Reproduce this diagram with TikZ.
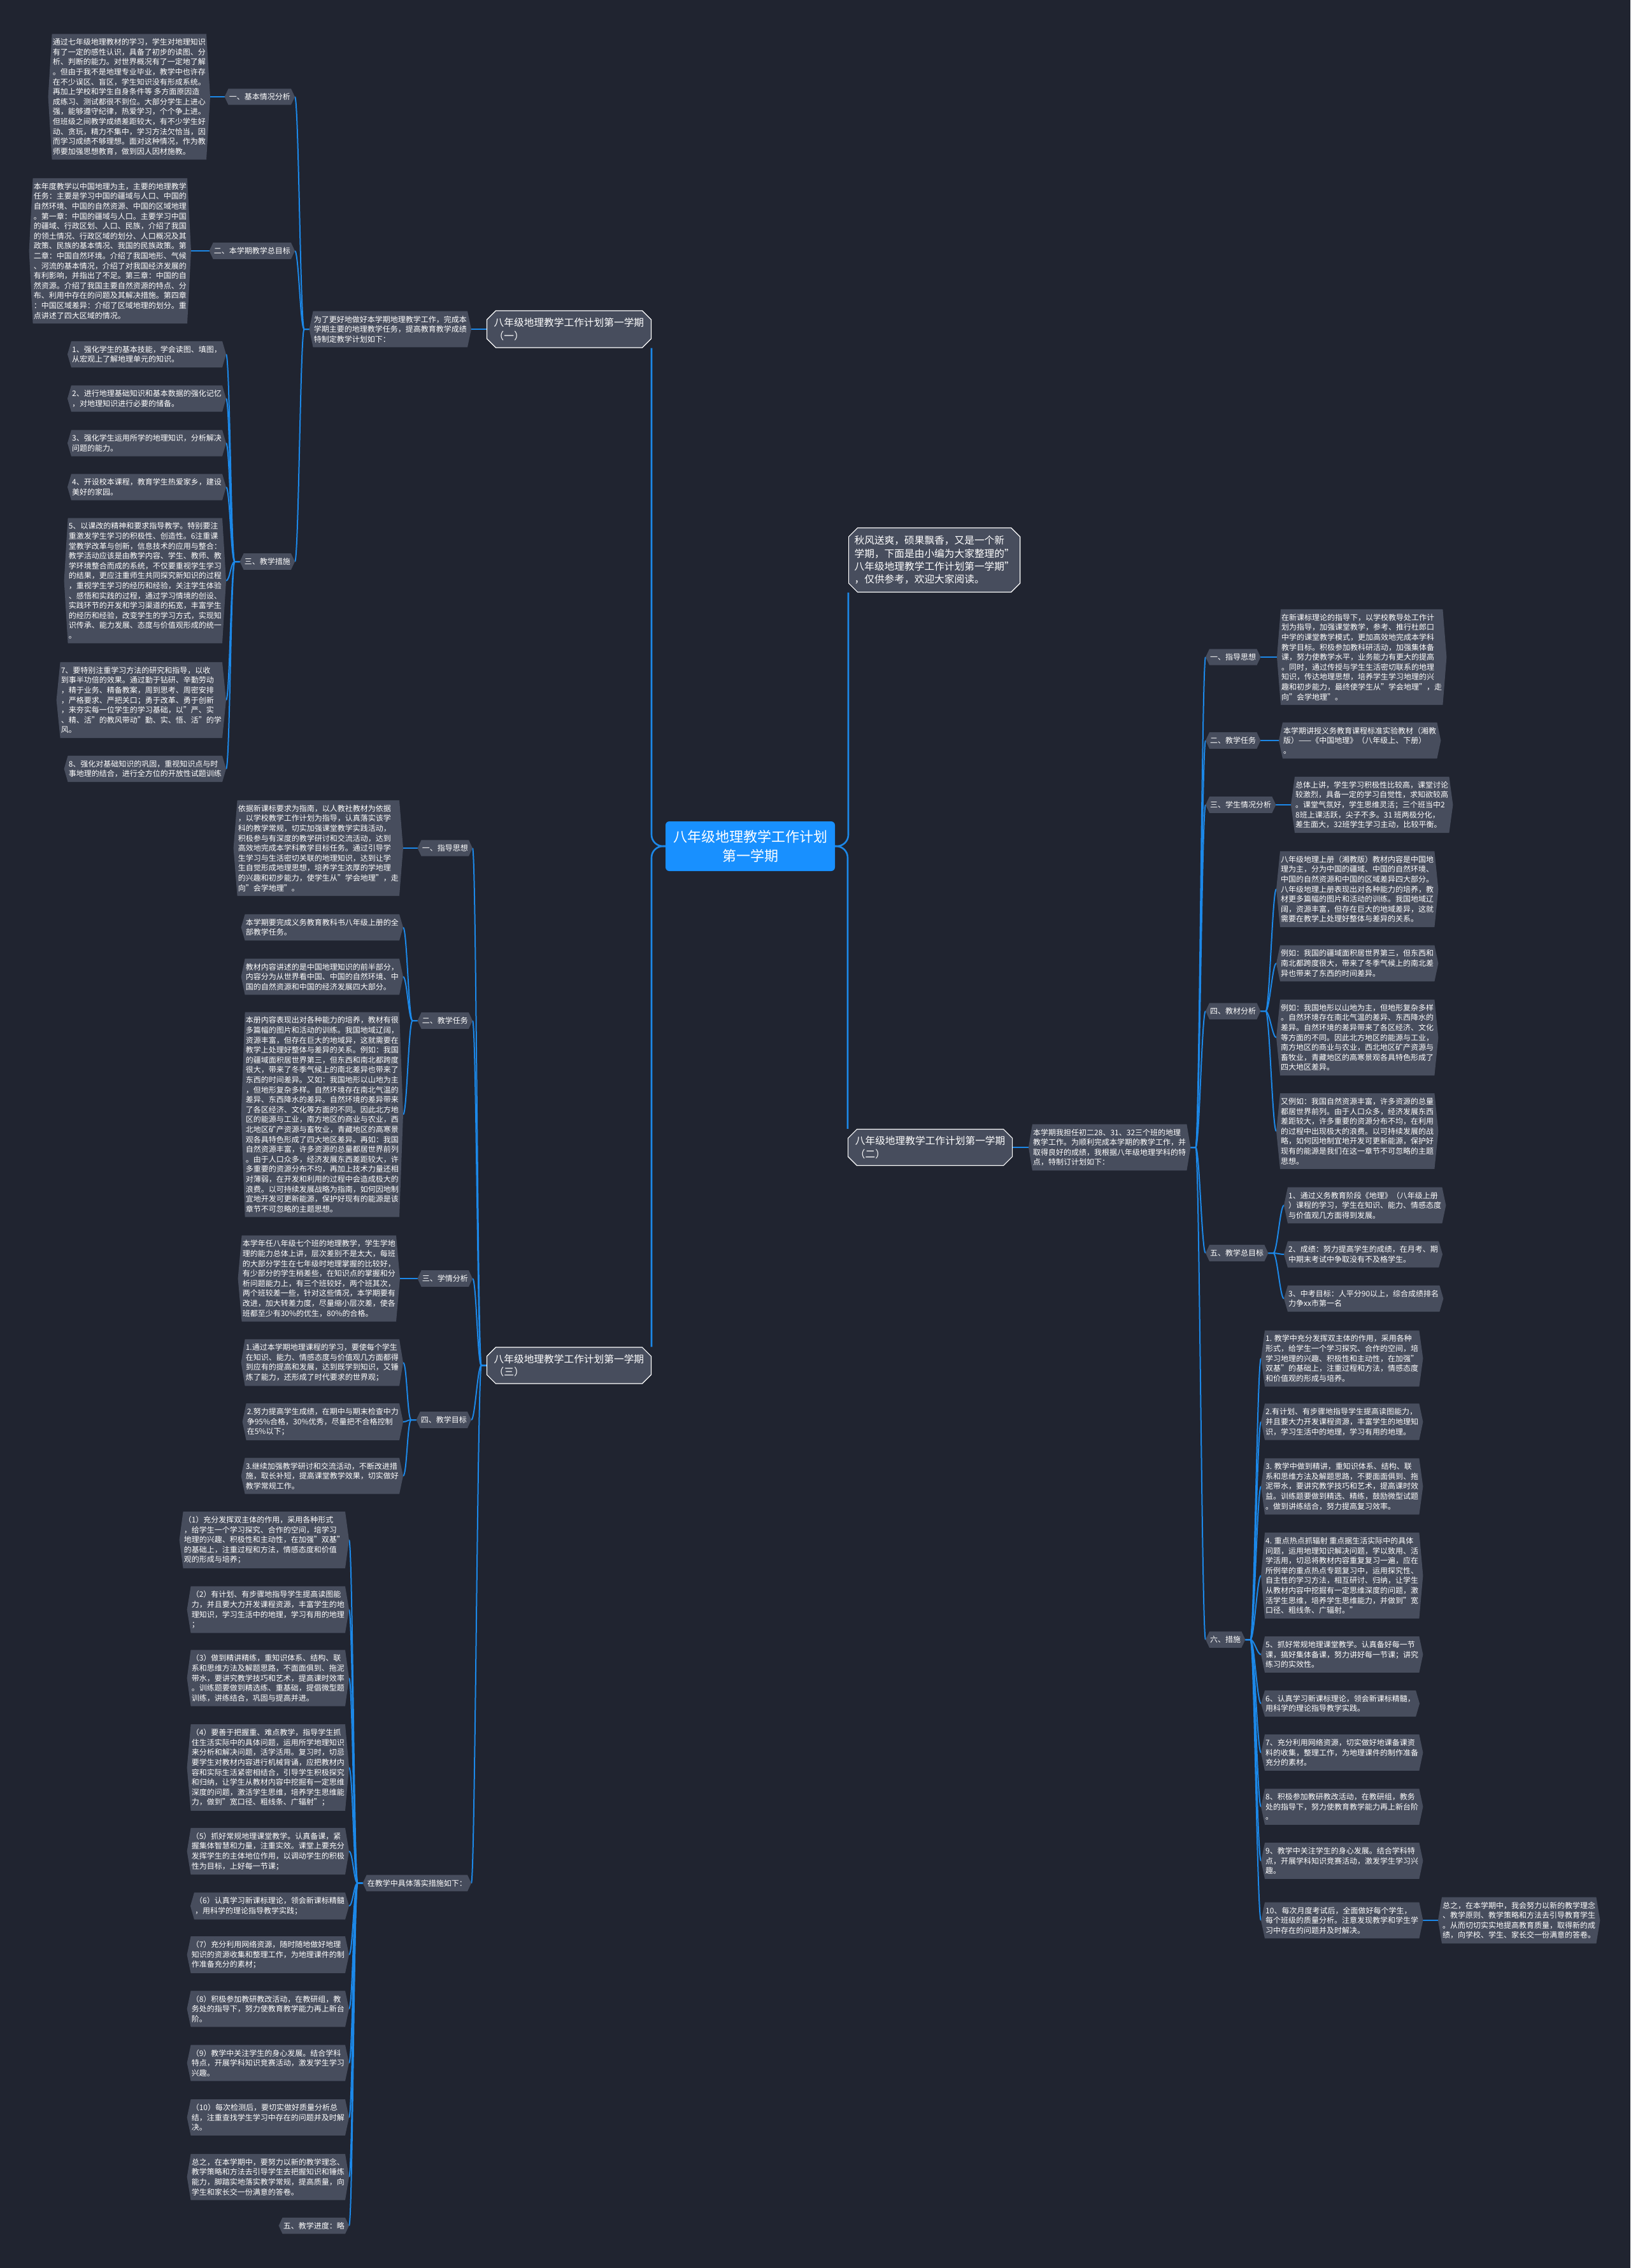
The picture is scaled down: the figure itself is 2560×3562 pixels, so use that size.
\documentclass[tikz,border=0pt]{standalone}
\usepackage{fontspec}
\setmainfont{Noto Sans CJK SC}
\usepackage{xcolor}
\usetikzlibrary{shapes.misc, backgrounds}

\definecolor{bgnavy}{RGB}{32,36,48}
\definecolor{leafgrey}{RGB}{71,77,93}
\definecolor{linkblue}{RGB}{28,136,232}
\definecolor{rootblue}{RGB}{24,144,255}

\newcommand{\leaffont}{\fontsize{12}{15.6}\selectfont}
\newcommand{\branchfont}{\fontsize{15.7}{20.4}\selectfont}
\newcommand{\rootfont}{\fontsize{22}{29.5}\selectfont}
% grey hexagon behind a leaf node
\newcommand{\hexback}[1]{\fill[leafgrey] (#1.west) -- ([xshift=6pt]#1.north west) -- ([xshift=-6pt]#1.north east) -- (#1.east) -- ([xshift=-6pt]#1.south east) -- ([xshift=6pt]#1.south west) -- cycle;}

\begin{document}
\begin{tikzpicture}[x=1pt, y=1pt,
    hexbox/.style={inner xsep=7pt, inner ysep=7pt, align=left, text=white, font=\leaffont},
    planbox/.style={chamfered rectangle, chamfered rectangle xsep=7pt, chamfered rectangle ysep=7pt,
      fill=leafgrey, draw=white, line width=1.2pt, inner sep=2pt, align=left, text=white, font=\branchfont},
    link/.style={draw=linkblue, line width=2pt}]
    \useasboundingbox (0,0) rectangle (2560,-3562);

    % Root
    \node[fill=rootblue, rounded corners=6pt, minimum width=266pt, minimum height=78pt,
      text=white, align=center, font=\rootfont] (root) at (1178,-1329) {八年级地理教学工作计划\\第一学期};

    % Main branches
    \node[planbox, anchor=east, minimum width=258pt, minimum height=58pt] (plan1) at (1023,-517)
      {八年级地理教学工作计划第一学期\\（一）};
    \node[planbox, anchor=west, minimum width=258pt, minimum height=101pt] (intro) at (1332,-879.5)
      {秋风送爽，硕果飘香，又是一个新\\学期，下面是由小编为大家整理的"\\八年级地理教学工作计划第一学期"\\，仅供参考，欢迎大家阅读。};
    \node[planbox, anchor=west, minimum width=258pt, minimum height=57pt] (plan2) at (1331,-1802)
      {八年级地理教学工作计划第一学期\\（二）};
    \node[planbox, anchor=east, minimum width=258pt, minimum height=57pt] (plan3) at (1023,-2144.5)
      {八年级地理教学工作计划第一学期\\（三）};

    % Plan (one)
    \node[hexbox, anchor=east] (p1lead) at (740,-517) {为了更好地做好本学期地理教学工作，完成本\\学期主要的地理教学任务，提高教育教学成绩\\特制定教学计划如下：};
    \node[hexbox, anchor=east] (p1s1) at (463,-152) {一、基本情况分析};
    \node[hexbox, anchor=east] (p1s2) at (463,-394) {二、本学期教学总目标};
    \node[hexbox, anchor=east] (p1s3) at (463,-882) {三、教学措施};
    \node[hexbox, anchor=east] (p1s1t) at (330,-152) {通过七年级地理教材的学习，学生对地理知识\\
有了一定的感性认识，具备了初步的读图、分\\
析、判断的能力。对世界概况有了一定地了解\\
。但由于我不是地理专业毕业，教学中也许存\\
在不少误区、盲区，学生知识没有形成系统。\\
再加上学校和学生自身条件等 多方面原因造\\
成练习、测试都很不到位。大部分学生上进心\\
强，能够遵守纪律，热爱学习，个个争上进。\\
但班级之间教学成绩差距较大，有不少学生好\\
动、贪玩，精力不集中，学习方法欠恰当，因\\
而学习成绩不够理想。面对这种情况，作为教\\
师要加强思想教育，做到因人因材施教。};
    \node[hexbox, anchor=east] (p1s2t) at (300,-394) {本年度教学以中国地理为主，主要的地理教学\\
任务：主要是学习中国的疆域与人口、中国的\\
自然环境、中国的自然资源、中国的区域地理\\
。第一章：中国的疆域与人口。主要学习中国\\
的疆域、行政区划、人口、民族，介绍了我国\\
的领土情况、行政区域的划分、人口概况及其\\
政策、民族的基本情况、我国的民族政策。第\\
二章：中国自然环境。介绍了我国地形、气候\\
、河流的基本情况，介绍了对我国经济发展的\\
有利影响，并指出了不足。第三章：中国的自\\
然资源。介绍了我国主要自然资源的特点、分\\
布、利用中存在的问题及其解决措施。第四章\\
：中国区域差异：介绍了区域地理的划分。重\\
点讲述了四大区域的情况。};
    \node[hexbox, anchor=east] (p1s3t1) at (355,-556.5) {1、强化学生的基本技能，学会读图、填图，\\从宏观上了解地理单元的知识。};
    \node[hexbox, anchor=east] (p1s3t2) at (355,-626) {2、进行地理基础知识和基本数据的强化记忆\\，对地理知识进行必要的储备。};
    \node[hexbox, anchor=east] (p1s3t3) at (355,-696) {3、强化学生运用所学的地理知识，分析解决\\问题的能力。};
    \node[hexbox, anchor=east] (p1s3t4) at (355,-765) {4、开设校本课程，教育学生热爱家乡，建设\\美好的家园。};
    \node[hexbox, anchor=east] (p1s3t5) at (355,-912) {5、以课改的精神和要求指导教学。特别要注\\
重激发学生学习的积极性、创造性。6注重课\\
堂教学改革与创新，信息技术的应用与整合：\\
教学活动应该是由教学内容、学生、教师、教\\
学环境整合而成的系统，不仅要重视学生学习\\
的结果，更应注重师生共同探究新知识的过程\\
，重视学生学习的经历和经验，关注学生体验\\
、感悟和实践的过程，通过学习情境的创设、\\
实践环节的开发和学习渠道的拓宽，丰富学生\\
的经历和经验，改变学生的学习方式，实现知\\
识传承、能力发展、态度与价值观形成的统一\\
。};
    \node[hexbox, anchor=east] (p1s3t6) at (355,-1099.5) {7、要特别注重学习方法的研究和指导，以收\\
到事半功倍的效果。通过勤于钻研、辛勤劳动\\
，精于业务、精备教案，周到思考、周密安排\\
，严格要求、严把关口；勇于改革、勇于创新\\
，来夯实每一位学生的学习基础，以"严、实\\
、精、活"的教风带动"勤、实、悟、活"的学\\
风。};
    \node[hexbox, anchor=east] (p1s3t7) at (355,-1207.5) {8、强化对基础知识的巩固，重视知识点与时\\事地理的结合，进行全方位的开放性试题训练};

    % Plan (two)
    \node[hexbox, anchor=west] (p2lead) at (1615,-1802) {本学期我担任初二28、31、32三个班的地理\\教学工作。为顺利完成本学期的教学工作，并\\取得良好的成绩，我根据八年级地理学科的特\\点，特制订计划如下：};
    \node[hexbox, anchor=west] (p2s1) at (1893,-1032) {一、指导思想};
    \node[hexbox, anchor=west] (p2s2) at (1893,-1163) {二、教学任务};
    \node[hexbox, anchor=west] (p2s3) at (1893,-1264) {三、学生情况分析};
    \node[hexbox, anchor=west] (p2s4) at (1893,-1588) {四、教材分析};
    \node[hexbox, anchor=west] (p2s5) at (1893,-1968) {五、教学总目标};
    \node[hexbox, anchor=west] (p2s6) at (1893,-2575) {六、措施};
    \node[hexbox, anchor=west] (p2s1t) at (2005,-1032) {在新课标理论的指导下，以学校教导处工作计\\
划为指导，加强课堂教学，参考、推行杜郎口\\
中学的课堂教学模式，更加高效地完成本学科\\
教学目标。积极参加教科研活动，加强集体备\\
课，努力使教学水平，业务能力有更大的提高\\
。同时，通过传授与学生生活密切联系的地理\\
知识，传达地理思想，培养学生学习地理的兴\\
趣和初步能力，最终使学生从"学会地理"，走\\
向"会学地理"。};
    \node[hexbox, anchor=west] (p2s2t) at (2008,-1163) {本学期讲授义务教育课程标准实验教材（湘教\\版）——《中国地理》（八年级上、下册）\\。};
    \node[hexbox, anchor=west] (p2s3t) at (2027,-1264) {总体上讲，学生学习积极性比较高，课堂讨论\\
较激烈，具备一定的学习自觉性，求知欲较高\\
。课堂气氛好，学生思维灵活；三个班当中2\\
8班上课活跃，尖子不多。31 班两极分化，\\
差生面大，32班学生学习主动，比较平衡。};
    \node[hexbox, anchor=west] (p2s4t1) at (2004,-1396.5) {八年级地理上册（湘教版）教材内容是中国地\\
理为主，分为中国的疆域、中国的自然环境、\\
中国的自然资源和中国的区域差异四大部分。\\
八年级地理上册表现出对各种能力的培养，教\\
材更多篇幅的图片和活动的训练。我国地域辽\\
阔，资源丰富，但存在巨大的地域差异，这就\\
需要在教学上处理好整体与差异的关系。};
    \node[hexbox, anchor=west] (p2s4t2) at (2004,-1513) {例如：我国的疆域面积居世界第三，但东西和\\南北都跨度很大，带来了冬季气候上的南北差\\异也带来了东西的时间差异。};
    \node[hexbox, anchor=west] (p2s4t3) at (2004,-1629.5) {例如：我国地形以山地为主，但地形复杂多样\\
。自然环境存在南北气温的差异、东西降水的\\
差异。自然环境的差异带来了各区经济、文化\\
等方面的不同。因此北方地区的能源与工业，\\
南方地区的商业与农业，西北地区矿产资源与\\
畜牧业，青藏地区的高寒景观各具特色形成了\\
四大地区差异。};
    \node[hexbox, anchor=west] (p2s4t4) at (2004,-1776.5) {又例如：我国自然资源丰富，许多资源的总量\\
都居世界前列。由于人口众多，经济发展东西\\
差距较大，许多重要的资源分布不均，在利用\\
的过程中出现极大的浪费。以可持续发展的战\\
略，如何因地制宜地开发可更新能源，保护好\\
现有的能源是我们在这一章节不可忽略的主题\\
思想。};
    \node[hexbox, anchor=west] (p2s5t1) at (2016,-1893) {1、通过义务教育阶段《地理》（八年级上册\\）课程的学习，学生在知识、能力、情感态度\\与价值观几方面得到发展。};
    \node[hexbox, anchor=west] (p2s5t2) at (2016,-1970) {2、成绩：努力提高学生的成绩，在月考、期\\中期末考试中争取没有不及格学生。};
    \node[hexbox, anchor=west] (p2s5t3) at (2016,-2039.5) {3、中考目标：人平分90以上，综合成绩排名\\力争xx市第一名};
    \node[hexbox, anchor=west] (p2s6t1) at (1980,-2133.5) {1. 教学中充分发挥双主体的作用，采用各种\\
形式，给学生一个学习探究、合作的空间，培\\
学习地理的兴趣、积极性和主动性，在加强"\\
双基"的基础上，注重过程和方法，情感态度\\
和价值观的形成与培养。};
    \node[hexbox, anchor=west] (p2s6t2) at (1980,-2233) {2.有计划、有步骤地指导学生提高读图能力，\\并且要大力开发课程资源，丰富学生的地理知\\识，学习生活中的地理，学习有用的地理。};
    \node[hexbox, anchor=west] (p2s6t3) at (1980,-2334.5) {3. 教学中做到精讲，重知识体系、结构、联\\
系和思维方法及解题思路，不要面面俱到、拖\\
泥带水，要讲究教学技巧和艺术，提高课时效\\
益。训练题要做到精选、精练，鼓励微型试题\\
。做到讲练结合，努力提高复习效率。};
    \node[hexbox, anchor=west] (p2s6t4) at (1980,-2474.5) {4. 重点热点抓辐射 重点据生活实际中的具体\\
问题，运用地理知识解决问题，学以致用、活\\
学活用，切忌将教材内容重复复习一遍，应在\\
所例举的重点热点专题复习中，运用探究性、\\
自主性的学习方法，相互研讨、归纳，让学生\\
从教材内容中挖掘有一定思维深度的问题，激\\
活学生思维，培养学生思维能力，并做到"宽\\
口径、粗线条、广辐射。"};
    \node[hexbox, anchor=west] (p2s6t5) at (1980,-2598.5) {5、抓好常规地理课堂教学。认真备好每一节\\课，搞好集体备课，努力讲好每一节课；讲究\\练习的实效性。};
    \node[hexbox, anchor=west] (p2s6t6) at (1980,-2675.5) {6、认真学习新课标理论，领会新课标精髓，\\用科学的理论指导教学实践。};
    \node[hexbox, anchor=west] (p2s6t7) at (1980,-2752.5) {7、充分利用网络资源，切实做好地课备课资\\料的收集，整理工作，为地理课件的制作准备\\充分的素材。};
    \node[hexbox, anchor=west] (p2s6t8) at (1980,-2837.5) {8、积极参加教研教改活动，在教研组，教务\\处的指导下，努力使教育教学能力再上新台阶\\。};
    \node[hexbox, anchor=west] (p2s6t9) at (1980,-2922.5) {9、教学中关注学生的身心发展。结合学科特\\点，开展学科知识竞赛活动，激发学生学习兴\\趣。};
    \node[hexbox, anchor=west] (p2s6t10) at (1980,-3016) {10、每次月度考试后，全面做好每个学生，\\每个班级的质量分析。注意发现教学和学生学\\习中存在的问题并及时解决。};
    \node[hexbox, anchor=west] (p2end) at (2258,-3016) {总之，在本学期中，我会努力以新的教学理念\\、教学原则、教学策略和方法去引导教育学生\\。从而切切实实地提高教育质量，取得新的成\\绩，向学校、学生、家长交一份满意的答卷。};

    % Plan (three)
    \node[hexbox, anchor=east] (p3s1) at (742,-1332) {一、指导思想};
    \node[hexbox, anchor=east] (p3s2) at (742,-1603) {二、教学任务};
    \node[hexbox, anchor=east] (p3s3) at (742,-2008) {三、学情分析};
    \node[hexbox, anchor=east] (p3s4) at (740,-2230) {四、教学目标};
    \node[hexbox, anchor=east] (p3s5) at (740,-2957.5) {在教学中具体落实措施如下：};
    \node[hexbox, anchor=east] (p3s1t) at (633,-1332) {依据新课标要求为指南，以人教社教材为依据\\
，以学校教学工作计划为指导，认真落实该学\\
科的教学常规，切实加强课堂教学实践活动，\\
积极参与有深度的教学研讨和交流活动，达到\\
高效地完成本学科教学目标任务。通过引导学\\
生学习与生活密切关联的地理知识，达到让学\\
生自觉形成地理思想，培养学生浓厚的学地理\\
的兴趣和初步能力，使学生从"学会地理"，走\\
向"会学地理"。};
    \node[hexbox, anchor=east] (p3s2t1) at (633,-1456.5) {本学期要完成义务教育教科书八年级上册的全\\部教学任务。};
    \node[hexbox, anchor=east] (p3s2t2) at (633,-1534) {教材内容讲述的是中国地理知识的前半部分，\\内容分为从世界看中国、中国的自然环境、中\\国的自然资源和中国的经济发展四大部分。};
    \node[hexbox, anchor=east] (p3s2t3) at (633,-1750.5) {本册内容表现出对各种能力的培养，教材有很\\
多篇幅的图片和活动的训练。我国地域辽阔，\\
资源丰富，但存在巨大的地域异，这就需要在\\
教学上处理好整体与差异的关系。例如：我国\\
的疆域面积居世界第三，但东西和南北都跨度\\
很大，带来了冬季气候上的南北差异也带来了\\
东西的时间差异。又如：我国地形以山地为主\\
，但地形复杂多样。自然环境存在南北气温的\\
差异、东西降水的差异。自然环境的差异带来\\
了各区经济、文化等方面的不同。因此北方地\\
区的能源与工业，南方地区的商业与农业，西\\
北地区矿产资源与畜牧业，青藏地区的高寒景\\
观各具特色形成了四大地区差异。再如：我国\\
自然资源丰富，许多资源的总量都居世界前列\\
。由于人口众多，经济发展东西差距较大，许\\
多重要的资源分布不均，再加上技术力量还相\\
对薄弱，在开发和利用的过程中会造成极大的\\
浪费。以可持续发展战略为指南，如何因地制\\
宜地开发可更新能源，保护好现有的能源是该\\
章节不可忽略的主题思想。};
    \node[hexbox, anchor=east] (p3s3t) at (628,-2008) {本学年任八年级七个班的地理教学，学生学地\\
理的能力总体上讲，层次差别不是太大，每班\\
的大部分学生在七年级时地理掌握的比较好，\\
有少部分的学生稍差些，在知识点的掌握和分\\
析问题能力上，有三个班较好，两个班其次，\\
两个班较差一些，针对这些情况，本学期要有\\
改进，加大转差力度，尽量缩小层次差，使各\\
班都至少有30\%的优生，80\%的合格。};
    \node[hexbox, anchor=east] (p3s4t1) at (633,-2140) {1.通过本学期地理课程的学习，要使每个学生\\在知识、能力、情感态度与价值观几方面都得\\到应有的提高和发展，达到既学到知识，又锤\\炼了能力，还形成了时代要求的世界观；};
    \node[hexbox, anchor=east] (p3s4t2) at (633,-2233) {2.努力提高学生成绩，在期中与期末检查中力\\争95\%合格，30\%优秀，尽量把不合格控制\\在5\%以下；};
    \node[hexbox, anchor=east] (p3s4t3) at (633,-2318) {3.继续加强教学研讨和交流活动，不断改进措\\施，取长补短，提高课堂教学效果，切实做好\\教学常规工作。};
    \node[hexbox, anchor=east] (p3s5t1) at (548,-2418.5) {（1）充分发挥双主体的作用，采用各种形式\\
，给学生一个学习探究、合作的空间，培学习\\
地理的兴趣、积极性和主动性，在加强"双基"\\
的基础上，注重过程和方法，情感态度和价值\\
观的形成与培养；};
    \node[hexbox, anchor=east] (p3s5t2) at (548,-2528) {（2）有计划、有步骤地指导学生提高读图能\\力，并且要大力开发课程资源，丰富学生的地\\理知识，学习生活中的地理，学习有用的地理\\；};
    \node[hexbox, anchor=east] (p3s5t3) at (548,-2635.5) {（3）做到精讲精练，重知识体系、结构、联\\
系和思维方法及解题思路，不面面俱到、拖泥\\
带水，要讲究教学技巧和艺术，提高课时效率\\
。训练题要做到精选练、重基础，提倡微型题\\
训练，讲练结合，巩固与提高并进。};
    \node[hexbox, anchor=east] (p3s5t4) at (548,-2776) {（4）要善于把握重、难点教学，指导学生抓\\
住生活实际中的具体问题，运用所学地理知识\\
来分析和解决问题，活学活用。复习时，切忌\\
要学生对教材内容进行机械背诵，应把教材内\\
容和实际生活紧密相结合，引导学生积极探究\\
和归纳，让学生从教材内容中挖掘有一定思维\\
深度的问题，激活学生思维，培养学生思维能\\
力，做到"宽口径、粗线条、广辐射"；};
    \node[hexbox, anchor=east] (p3s5t5) at (548,-2907.5) {（5）抓好常规地理课堂教学。认真备课，紧\\握集体智慧和力量，注重实效。课堂上要充分\\发挥学生的主体地位作用，以调动学生的积极\\性为目标，上好每一节课；};
    \node[hexbox, anchor=east] (p3s5t6) at (548,-2993.5) {（6）认真学习新课标理论，领会新课标精髓\\，用科学的理论指导教学实践；};
    \node[hexbox, anchor=east] (p3s5t7) at (548,-3070) {（7）充分利用网络资源，随时随地做好地理\\知识的资源收集和整理工作，为地理课件的制\\作准备充分的素材；};
    \node[hexbox, anchor=east] (p3s5t8) at (548,-3155) {（8）积极参加教研教改活动，在教研组，教\\务处的指导下，努力使教育教学能力再上新台\\阶。};
    \node[hexbox, anchor=east] (p3s5t9) at (548,-3240) {（9）教学中关注学生的身心发展。结合学科\\特点，开展学科知识竞赛活动，激发学生学习\\兴趣。};
    \node[hexbox, anchor=east] (p3s5t10) at (548,-3325.5) {（10）每次检测后，要切实做好质量分析总\\结，注重查找学生学习中存在的问题并及时解\\决。};
    \node[hexbox, anchor=east] (p3s5t11) at (548,-3419) {总之，在本学期中，要努力以新的教学理念、\\教学策略和方法去引导学生去把握知识和锤炼\\能力，脚踏实地落实教学常规，提高质量，向\\学生和家长交一份满意的答卷。};
    \node[hexbox, anchor=east] (p3s5t12) at (548,-3495.5) {五、教学进度：略};

    \begin{scope}[on background layer]
        \fill[bgnavy] (0,0) rectangle (2560,-3562);

        % Root to branches
        \draw[link, line width=2.6pt, rounded corners=18pt] (root.west) -| (plan1.east |- plan1.south);
        \draw[link, line width=2.6pt, rounded corners=18pt] (root.west) -| (plan3.east |- plan3.north);
        \draw[link, line width=2.6pt, rounded corners=18pt] (root.east) -| (intro.west |- intro.south);
        \draw[link, line width=2.6pt, rounded corners=18pt] (root.east) -| (plan2.west |- plan2.north);

        % Plan (one)
        \draw[link] (plan1.west) -- (p1lead.east);
        \foreach \i in {1,2,3}
            \draw[link] (p1lead.west) -- ++(-8,0) to[out=180,in=0,distance=6pt] (p1s\i.east);
        \draw[link] (p1s1.west) -- (p1s1t.east);
        \draw[link] (p1s2.west) -- (p1s2t.east);
        \foreach \i in {1,...,7}
            \draw[link] (p1s3.west) -- ++(-8,0) to[out=180,in=0,distance=6pt] (p1s3t\i.east);

        % Plan (two)
        \draw[link] (plan2.east) -- (p2lead.west);
        \foreach \i in {1,...,6}
            \draw[link] (p2lead.east) -- ++(8,0) to[out=0,in=180,distance=6pt] (p2s\i.west);
        \draw[link] (p2s1.east) -- (p2s1t.west);
        \draw[link] (p2s2.east) -- (p2s2t.west);
        \draw[link] (p2s3.east) -- (p2s3t.west);
        \foreach \i in {1,...,4}
            \draw[link] (p2s4.east) -- ++(8,0) to[out=0,in=180,distance=6pt] (p2s4t\i.west);
        \foreach \i in {1,2,3}
            \draw[link] (p2s5.east) -- ++(8,0) to[out=0,in=180,distance=6pt] (p2s5t\i.west);
        \foreach \i in {1,...,10}
            \draw[link] (p2s6.east) -- ++(8,0) to[out=0,in=180,distance=6pt] (p2s6t\i.west);
        \draw[link] (p2s6t10.east) -- (p2end.west);

        % Plan (three)
        \foreach \i in {1,...,5}
            \draw[link] (plan3.west) -- ++(-8,0) to[out=180,in=0,distance=6pt] (p3s\i.east);
        \draw[link] (p3s1.west) -- (p3s1t.east);
        \foreach \i in {1,2,3}
            \draw[link] (p3s2.west) -- ++(-8,0) to[out=180,in=0,distance=6pt] (p3s2t\i.east);
        \draw[link] (p3s3.west) -- (p3s3t.east);
        \foreach \i in {1,2,3}
            \draw[link] (p3s4.west) -- ++(-8,0) to[out=180,in=0,distance=6pt] (p3s4t\i.east);
        \foreach \i in {1,...,12}
            \draw[link] (p3s5.west) -- ++(-8,0) to[out=180,in=0,distance=6pt] (p3s5t\i.east);

        % Leaf backs
        \foreach \n in {p1lead,p1s1,p1s1t,p1s2,p1s2t,p1s3,
                        p2lead,p2s1,p2s1t,p2s2,p2s2t,p2s3,p2s3t,p2s4,p2s5,p2s6,p2end,
                        p3s1,p3s1t,p3s2,p3s3,p3s3t,p3s4,p3s5}
            {\hexback{\n}}
        \foreach \i in {1,...,7} {\hexback{p1s3t\i}}
        \foreach \i in {1,...,4} {\hexback{p2s4t\i}}
        \foreach \i in {1,2,3} {\hexback{p2s5t\i}}
        \foreach \i in {1,...,10} {\hexback{p2s6t\i}}
        \foreach \i in {1,2,3} {\hexback{p3s2t\i}}
        \foreach \i in {1,2,3} {\hexback{p3s4t\i}}
        \foreach \i in {1,...,12} {\hexback{p3s5t\i}}
    \end{scope}
\end{tikzpicture}
\end{document}
